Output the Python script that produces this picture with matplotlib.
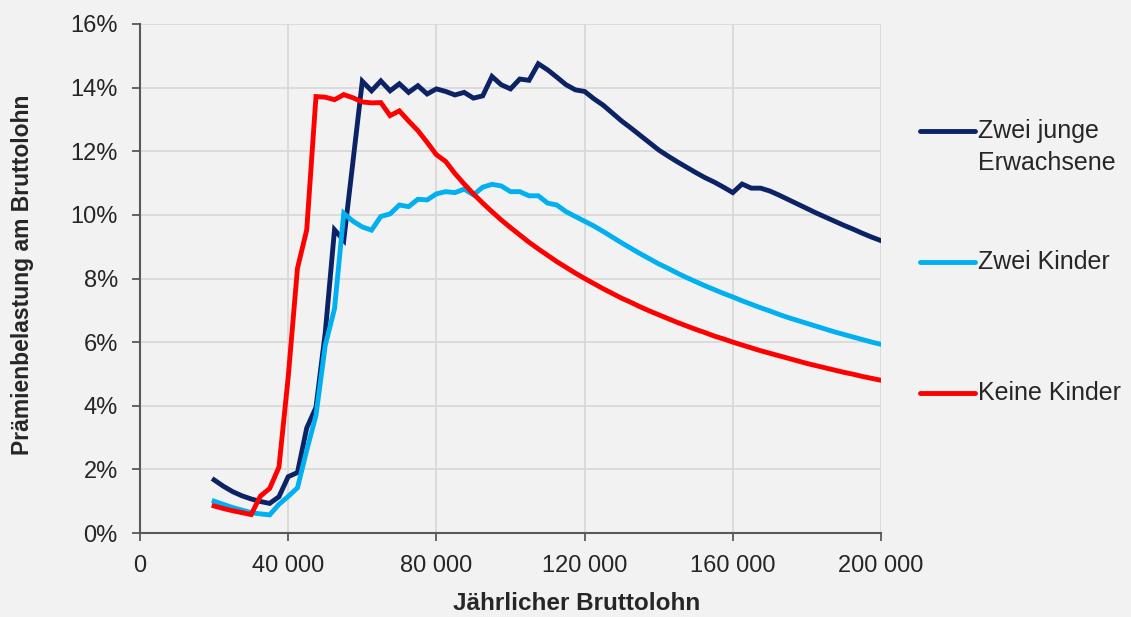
import numpy as np
import matplotlib.pyplot as plt
from matplotlib.lines import Line2D
from matplotlib.ticker import FuncFormatter

# Bruttolohn in CHF, Schritte zu 2 500
lohn = np.arange(20000, 202500, 2500)

# Prämienbelastung in % des Bruttolohns
junge_erw = [1.67, 1.47, 1.30, 1.17, 1.07, 0.99, 0.93, 1.14, 1.77, 1.90,
             3.30, 3.95, 6.30, 9.53, 9.20, 11.70, 14.20, 13.90, 14.21, 13.90,
             14.12, 13.85, 14.06, 13.80, 13.96, 13.88, 13.77, 13.85, 13.67, 13.74,
             14.35, 14.09, 13.96, 14.27, 14.23, 14.75, 14.56, 14.33, 14.09, 13.93,
             13.88, 13.65, 13.45, 13.20, 12.95, 12.73, 12.50, 12.27, 12.04, 11.85,
             11.67, 11.50, 11.33, 11.17, 11.03, 10.87, 10.70, 10.97, 10.84, 10.84,
             10.75, 10.62, 10.48, 10.34, 10.20, 10.06, 9.93, 9.80, 9.67, 9.55,
             9.42, 9.30, 9.19]
zwei_kinder = [1.00, 0.90, 0.80, 0.72, 0.64, 0.60, 0.57, 0.90, 1.15, 1.42,
               2.60, 3.70, 5.90, 7.05, 10.05, 9.80, 9.62, 9.52, 9.95, 10.03,
               10.31, 10.26, 10.49, 10.47, 10.66, 10.73, 10.70, 10.81, 10.63, 10.87,
               10.96, 10.91, 10.73, 10.73, 10.60, 10.60, 10.37, 10.31, 10.10, 9.95,
               9.80, 9.65, 9.48, 9.30, 9.12, 8.95, 8.78, 8.62, 8.46, 8.32,
               8.17, 8.03, 7.90, 7.77, 7.65, 7.53, 7.42, 7.30, 7.19, 7.08,
               6.98, 6.87, 6.77, 6.68, 6.59, 6.50, 6.41, 6.32, 6.24, 6.16,
               6.08, 6.00, 5.93]
keine_kinder = [0.85, 0.77, 0.70, 0.64, 0.58, 1.16, 1.40, 2.07, 4.90, 8.32,
                9.53, 13.72, 13.70, 13.62, 13.78, 13.68, 13.55, 13.52, 13.53, 13.12,
                13.27, 12.95, 12.65, 12.28, 11.89, 11.68, 11.30, 10.97, 10.66, 10.37,
                10.10, 9.84, 9.60, 9.37, 9.14, 8.93, 8.73, 8.53, 8.35, 8.17,
                8.00, 7.84, 7.68, 7.53, 7.38, 7.25, 7.11, 6.98, 6.86, 6.74,
                6.62, 6.51, 6.40, 6.30, 6.19, 6.10, 6.00, 5.91, 5.82, 5.73,
                5.65, 5.57, 5.49, 5.41, 5.33, 5.26, 5.19, 5.12, 5.05, 4.99,
                4.92, 4.86, 4.80]

namen = ['Zwei junge\nErwachsene', 'Zwei Kinder', 'Keine Kinder']
farben = ['#0B2265', '#00B0F0', '#FF0000']
legende_y = [131, 262, 393]  # px von oben

plt.rcParams['font.family'] = ['Liberation Sans', 'DejaVu Sans']
bg = '#F2F2F2'
txt = '#262626'

fig = plt.figure(figsize=(11.31, 6.17), dpi=100, facecolor=bg)
ax = fig.add_axes([140/1131, 84/617, 741/1131, 509/617], facecolor=bg)

for serie, farbe in zip([junge_erw, zwei_kinder, keine_kinder], farben):
    ax.plot(lohn, np.array(serie) / 100, color=farbe, lw=3.5, solid_joinstyle='miter', zorder=3)

ax.set_xlim(0, 200000)
ax.set_ylim(0, 0.16)
ax.set_xticks(range(0, 200001, 40000))
ax.set_yticks(np.arange(0, 0.161, 0.02))
ax.xaxis.set_major_formatter(FuncFormatter(lambda v, p: f'{int(v):,}'.replace(',', ' ')))
ax.yaxis.set_major_formatter(FuncFormatter(lambda v, p: f'{v*100:.0f}%'))
ax.grid(True, color='#D9D9D9', lw=1.3, zorder=0)
for s in ['top', 'right']:
    ax.spines[s].set_visible(False)
for s in ['left', 'bottom']:
    ax.spines[s].set_color('#595959')
    ax.spines[s].set_linewidth(1.5)
ax.tick_params(axis='both', direction='out', length=6, width=1.3, color='#595959',
               labelsize=17, labelcolor=txt)
ax.tick_params(axis='y', pad=10)
ax.tick_params(axis='x', pad=10)

fig.text(23/1131, 1 - 275/617, 'Prämienbelastung am Bruttolohn', fontsize=16.5,
         fontweight='bold', color=txt, rotation=90, ha='center', va='center')
fig.text(577/1131, 1 - 603/617, 'Jährlicher Bruttolohn', fontsize=17.5, fontweight='bold',
         color=txt, ha='center', va='center')

for name, farbe, ly in zip(namen, farben, legende_y):
    yf = 1 - ly / 617
    fig.add_artist(Line2D([920/1131, 975/1131], [yf, yf], color=farbe, lw=3.5,
                          solid_capstyle='round', transform=fig.transFigure))
    fig.text(978/1131, yf, name.split('\n')[0], fontsize=18, color=txt, ha='left', va='center')
    if '\n' in name:
        fig.text(978/1131, yf - 32/617, name.split('\n')[1], fontsize=18, color=txt,
                 ha='left', va='center')

fig.savefig('out.png', dpi=100, facecolor=bg)
